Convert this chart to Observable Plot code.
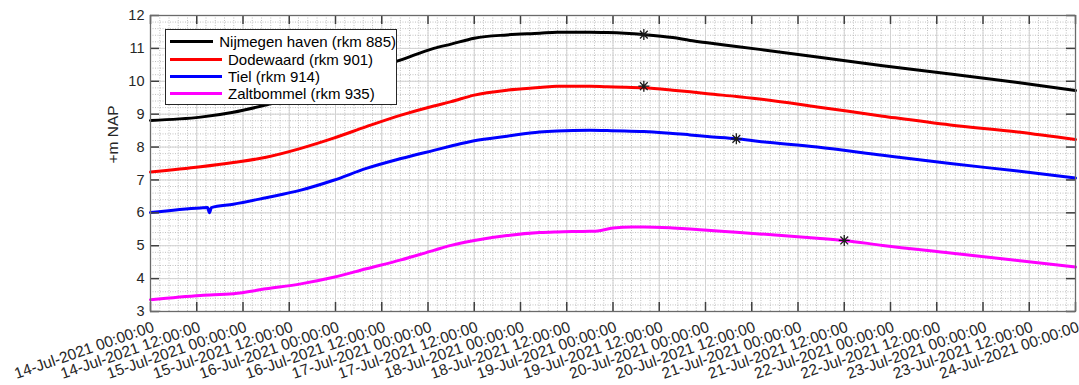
<!DOCTYPE html>
<html>
<head>
<meta charset="utf-8">
<script src="https://cdn.jsdelivr.net/npm/d3@7"></script>
<script src="https://cdn.jsdelivr.net/npm/@observablehq/plot@0.6"></script>
<style>
  body { margin: 0; background: #fff; }
  #chart { position: relative; width: 1079px; height: 385px; }
  #legend {
    position: absolute; left: 165px; top: 29px; width: 232px; height: 76px;
    box-sizing: border-box; border: 1px solid #262626; background: #fff;
    font-family: "Liberation Sans", Arial, sans-serif; font-size: 15px; color: #000;
    padding-top: 3px;
  }
  .entry { display: flex; align-items: center; height: 17.4px; white-space: nowrap; }
  .swatch { width: 52px; height: 3px; margin-left: 4px; margin-right: 6px; }
</style>
</head>
<body>
<div id="chart"></div>
<script>
// Water levels along the Waal, 14–24 July 2021, in m above NAP.
// Each pair: [hours since 14-Jul-2021 00:00 UTC, level].
const stations = ["Nijmegen haven (rkm 885)", "Dodewaard (rkm 901)", "Tiel (rkm 914)", "Zaltbommel (rkm 935)"];
const colors = ["#000000", "#ff0000", "#0000ff", "#ff00ff"];

const nijmegen = [[0,8.81],[13,8.91],[21.5,9.06],[30,9.28],[39,9.55],[47.5,9.95],[56,10.3],[65,10.65],[73.5,11.0],[78,11.13],[84,11.31],[92.5,11.41],[101,11.46],[105.5,11.49],[114,11.49],[118.5,11.48],[123,11.46],[128,11.42],[135.5,11.33],[140,11.24],[144.5,11.17],[152,11.06],[158,10.97],[173,10.74],[190,10.47],[207.5,10.22],[225,9.96],[240,9.72]];
const dodewaard = [[0,7.24],[13,7.40],[21.5,7.53],[30,7.69],[39,7.96],[47.5,8.27],[56,8.62],[65,8.97],[73.5,9.25],[78,9.38],[84,9.58],[92.5,9.73],[101,9.81],[105.5,9.85],[114,9.85],[118.5,9.83],[123,9.82],[128,9.80],[135.5,9.73],[140,9.68],[144.5,9.62],[152,9.54],[158,9.46],[173,9.22],[190,8.94],[207.5,8.67],[225,8.46],[240,8.23]];
const tiel = [[0,6.01],[13,6.15],[14.8,6.16],[15.3,6.0],[15.8,6.16],[21.5,6.26],[30,6.46],[39,6.69],[47.5,6.99],[56,7.35],[65,7.65],[73.5,7.90],[78,8.03],[84,8.19],[92.5,8.33],[101,8.46],[105.5,8.49],[114,8.51],[118.5,8.50],[123,8.49],[128,8.47],[135.5,8.41],[140,8.37],[144.5,8.32],[152,8.25],[158,8.17],[173,8.00],[190,7.75],[207.5,7.50],[225,7.27],[240,7.06]];
const zaltbommel = [[0,3.36],[13,3.49],[21.5,3.54],[30,3.69],[39,3.84],[47.5,4.04],[56,4.30],[65,4.57],[73.5,4.86],[78,5.01],[84,5.16],[92.5,5.31],[101,5.40],[105.5,5.42],[114,5.44],[116,5.45],[120,5.54],[125,5.57],[128,5.57],[135.5,5.54],[140,5.51],[144.5,5.47],[152,5.41],[158,5.36],[173,5.23],[180,5.16],[190,5.01],[207.5,4.78],[225,4.55],[240,4.35]];

// Peak moments marked with an asterisk: [station index, hours, level]
const peaks = [[0,128,11.42],[1,128,9.85],[2,152,8.25],[3,180,5.16]];

const yTicks = [3, 4, 5, 6, 7, 8, 9, 10, 11, 12];
const xTickStepHours = 12;

const start = Date.UTC(2021, 6, 14);
const end = Date.UTC(2021, 6, 24);
const HOUR = 3600e3;
const toDate = h => new Date(start + h * HOUR);

const series = [nijmegen, dodewaard, tiel, zaltbommel];
const rows = series.flatMap((s, i) => s.map(([h, v]) => ({station: stations[i], time: toDate(h), level: v})));
const peakRows = peaks.map(([i, h, v]) => ({station: stations[i], time: toDate(h), level: v}));

const xTicks = d3.utcHour.every(xTickStepHours).range(new Date(start), new Date(end + 1));
const minorX = d3.range(0, 240.01, xTickStepHours / 5).map(toDate);
const minorY = d3.range(30, 121, 2).map(d => d / 10);

const fmt = d3.utcFormat("%d-%b-%Y %H:%M:%S");

// 8-armed asterisk marker
const asterisk = {
  draw(ctx, size) {
    const r = Math.sqrt(size / Math.PI);
    for (let i = 0; i < 4; i++) {
      const a = i * Math.PI / 4, dx = r * Math.cos(a), dy = r * Math.sin(a);
      ctx.moveTo(-dx, -dy); ctx.lineTo(dx, dy);
    }
  }
};

const W = 1079, H = 385;
const M = {left: 150, right: 4, top: 15, bottom: 74};
const frameW = W - M.left - M.right;
const frameH = H - M.top - M.bottom;
const tickLen = 9;

const yMin = 3, yMax = 12;
// tick length expressed in each scale's units
const tickY = tickLen * (yMax - yMin) / frameH;
const tickX = tickLen * (end - start) / frameW;

const axisColor = "#6a6a6a";
const tickColor = "#404040";
const textColor = "#262626";

const chart = Plot.plot({
  width: W,
  height: H,
  marginLeft: M.left,
  marginRight: M.right,
  marginTop: M.top,
  marginBottom: M.bottom,
  style: {fontFamily: "'Liberation Sans', Arial, sans-serif", background: "#fff", overflow: "visible"},
  x: {type: "utc", domain: [new Date(start), new Date(end)]},
  y: {domain: [yMin, yMax]},
  color: {domain: stations, range: colors},
  marks: [
    Plot.gridX(minorX, {stroke: "#c0c0c0", strokeOpacity: 1, strokeDasharray: "1,1.5"}),
    Plot.gridY(minorY, {stroke: "#c0c0c0", strokeOpacity: 1, strokeDasharray: "1,1.5"}),
    Plot.gridX(xTicks, {stroke: "#d2d2d2", strokeOpacity: 1}),
    Plot.gridY(yTicks, {stroke: "#d2d2d2", strokeOpacity: 1}),
    Plot.line(rows, {x: "time", y: "level", z: "station", stroke: "station", strokeWidth: 3, curve: "monotone-x", strokeLinejoin: "round"}),
    Plot.dot(peakRows, {x: "time", y: "level", symbol: asterisk, r: 5.5, stroke: "#1a1a1a", strokeWidth: 1.3}),
    // inward ticks on all four sides
    Plot.ruleX(xTicks, {x: d => d, y1: yMin, y2: yMin + tickY, stroke: tickColor, strokeWidth: 1.5}),
    Plot.ruleX(xTicks, {x: d => d, y1: yMax - tickY, y2: yMax, stroke: tickColor, strokeWidth: 1.5}),
    Plot.ruleY(yTicks, {y: d => d, x1: new Date(start), x2: new Date(start + tickX), stroke: tickColor, strokeWidth: 1.5}),
    Plot.ruleY(yTicks, {y: d => d, x1: new Date(end - tickX), x2: new Date(end), stroke: tickColor, strokeWidth: 1.5}),
    Plot.frame({stroke: axisColor, strokeWidth: 1.3}),
    // tick labels
    Plot.axisX(xTicks, {anchor: "bottom", tickSize: 0, tickPadding: 15, dx: 3, tickRotate: -19, tickFormat: fmt, fontSize: 15.5, fill: textColor, label: null}),
    Plot.axisY(yTicks, {anchor: "left", tickSize: 0, tickPadding: 6, fontSize: 14.5, fill: textColor, label: null}),
    Plot.text(["+m NAP"], {frameAnchor: "left", dx: -37, rotate: -90, fontSize: 15.5, fill: textColor})
  ]
});

const container = document.getElementById("chart");
container.appendChild(chart);

// Legend box drawn inside the plot area
const legend = document.createElement("div");
legend.id = "legend";
stations.forEach((name, i) => {
  const row = document.createElement("div");
  row.className = "entry";
  const sw = document.createElement("span");
  sw.className = "swatch";
  sw.style.background = colors[i];
  const label = document.createElement("span");
  label.textContent = name;
  row.append(sw, label);
  legend.appendChild(row);
});
container.appendChild(legend);
</script>
</body>
</html>
